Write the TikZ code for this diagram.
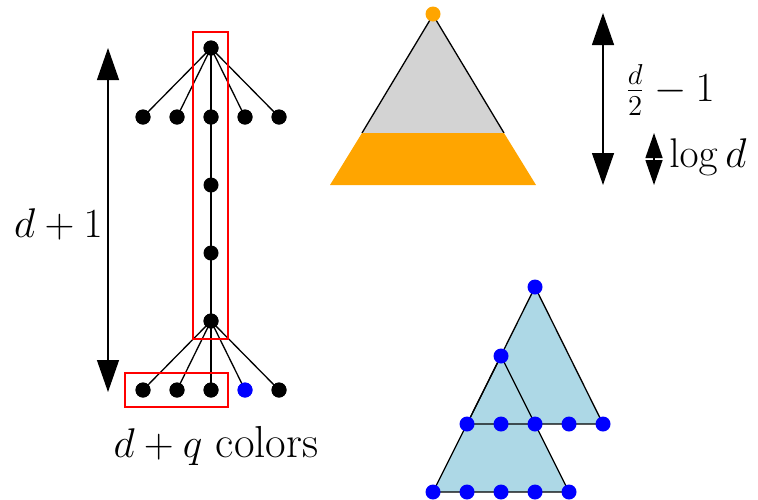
\documentclass[tikz,border=0pt]{standalone}
\usetikzlibrary{arrows.meta}
\definecolor{myorange}{RGB}{255,165,0}
\definecolor{mylightblue}{RGB}{173,216,230}
\definecolor{mygray}{RGB}{211,211,211}
\begin{document}
\begin{tikzpicture}[x=0.5pt,y=-0.5pt,
  dot/.style={circle,fill=black,inner sep=0pt,minimum size=7.5pt},
  bdot/.style={dot,fill=blue},
  odot/.style={dot,fill=myorange},
  edgeline/.style={line width=0.65pt},
  bigarrow/.style={line width=0.65pt,{Triangle[length=16pt,width=11pt]}-{Triangle[length=16pt,width=11pt]}},
  smallarrow/.style={line width=0.65pt,{Triangle[length=12.5pt,width=8.5pt]}-{Triangle[length=12.5pt,width=8.5pt]}},
  redbox/.style={draw=red,line width=0.55pt},
  lbl/.style={inner sep=0pt,font=\fontsize{22.4pt}{27pt}\selectfont}]
\useasboundingbox (0,0) rectangle (758,499);

% ---- left tree ----
\node[dot] (r) at (211,48) {};
\foreach \i/\x in {1/143,2/177,3/211,4/245,5/279}{
  \node[dot] (a\i) at (\x,117) {};
}
\node[dot] (m1) at (211,185) {};
\node[dot] (m2) at (211,253) {};
\node[dot] (m3) at (211,321) {};
\foreach \i/\x in {1/143,2/177,3/211,5/279}{
  \node[dot] (b\i) at (\x,390) {};
}
\node[bdot] (b4) at (245,390) {};
\foreach \i in {1,...,5}{
  \draw[edgeline] (r.center) -- (a\i.center);
  \draw[edgeline] (m3.center) -- (b\i.center);
}
\draw[edgeline] (a3.center) -- (m1.center) -- (m2.center) -- (m3.center);
% redraw dots on top
\foreach \i/\x in {1/143,2/177,3/211,4/245,5/279}{
  \node[dot] at (\x,117) {};
}
\node[dot] at (211,48) {};
\node[dot] at (211,321) {};
\foreach \x in {143,177,211,279}{ \node[dot] at (\x,390) {}; }
\node[bdot] at (245,390) {};

\draw[redbox] (193,32) rectangle (228,339);
\draw[redbox] (125,373) rectangle (228,407);

\coordinate (la1) at (108,48);
\coordinate (la2) at (108,392);
\draw[bigarrow] (la1) -- (la2);
\node[lbl,anchor=base east] (dp1) at (103,237) {$d+1$};
\node[lbl,anchor=base] (colors) at (216,457) {$d+q$ colors};

% ---- orange/gray triangle ----
\fill[mygray] (433,15) -- (362,133) -- (504,133) -- cycle;
\draw[edgeline] (362,133) -- (433,15) -- (504,133);
\fill[myorange] (362,133) -- (504,133) -- (536,185) -- (330,185) -- cycle;
\node[odot] (apex) at (433,14) {};

\coordinate (ra1) at (603,13);
\coordinate (ra2) at (603,185);
\draw[bigarrow] (ra1) -- (ra2);
\coordinate (sa1) at (654,133);
\coordinate (sa2) at (654,185);
\draw[smallarrow] (sa1) -- (sa2);
\node[lbl,anchor=base west] (half) at (625,101) {$\frac{d}{2}-1$};
\node[lbl,anchor=base west] (logd) at (669,167) {$\log d$};

% ---- blue triangles ----
\fill[mylightblue] (535,287) -- (467,424) -- (603,424) -- cycle;
\fill[mylightblue] (501,356) -- (433,492) -- (569,492) -- cycle;
\draw[edgeline] (535,287) -- (467,424) -- (603,424) -- cycle;
\draw[edgeline] (501,356) -- (433,492) -- (569,492) -- cycle;
\node[bdot] (t1) at (535,287) {};
\node[bdot] (t2) at (501,356) {};
\foreach \x [count=\i] in {467,501,535,569,603}{
  \node[bdot] (u\i) at (\x,424) {};
}
\foreach \x [count=\i] in {433,467,501,535,569}{
  \node[bdot] (v\i) at (\x,492) {};
}
\end{tikzpicture}
\end{document}
